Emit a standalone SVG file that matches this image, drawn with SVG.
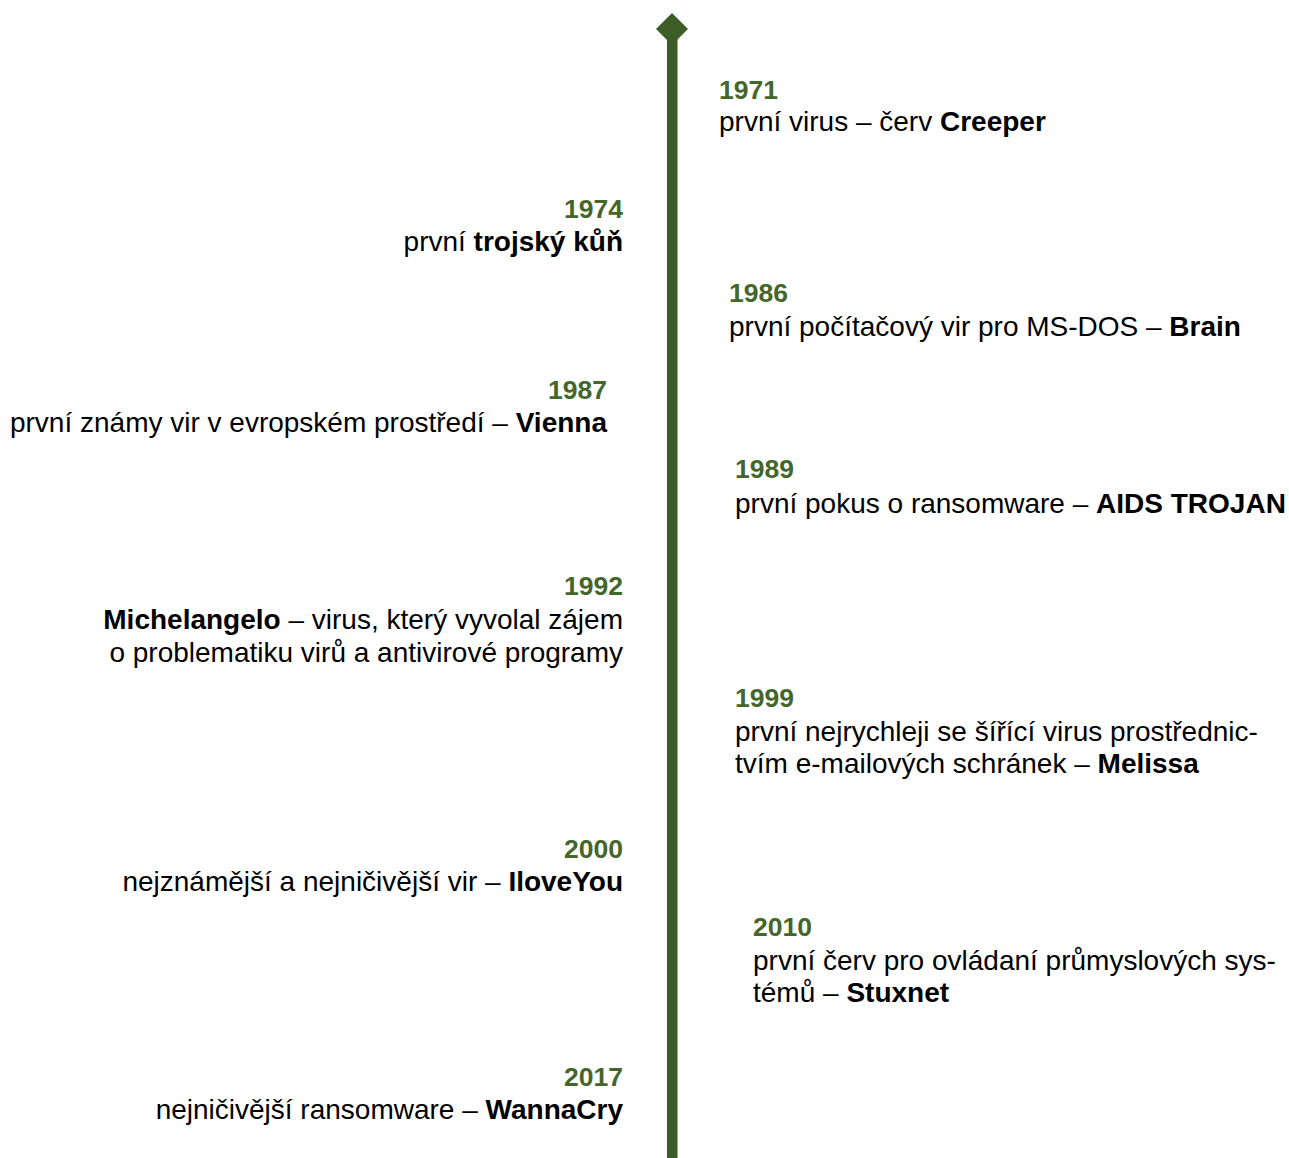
<svg xmlns="http://www.w3.org/2000/svg" width="1289" height="1158" viewBox="0 0 1289 1158">
<style>
.y{font-family:"Liberation Sans",Arial,sans-serif;font-size:26.5px;font-weight:bold;fill:#44662b}
.d{font-family:"Liberation Sans",Arial,sans-serif;font-size:28px;fill:#000}
.b{font-weight:bold}
.r{text-anchor:end}
</style>
<rect width="1289" height="1158" fill="#fff"/>
<g id="connectors">
<rect x="667" y="36" width="10.5" height="1122" fill="#3d5d26"/>
<polygon points="672,13 688,29 672,45 656,29" fill="#3d5d26"/>
</g>
<g id="e1971">
<text class="y" x="719" y="99">1971</text>
<text class="d" x="719" y="131">první virus – červ <tspan class="b">Creeper</tspan></text>
</g>
<g id="e1974">
<text class="y r" x="623" y="218">1974</text>
<text class="d r" x="623" y="251">první <tspan class="b">trojský kůň</tspan></text>
</g>
<g id="e1986">
<text class="y" x="729" y="302">1986</text>
<text class="d" x="729" y="336">první počítačový vir pro MS-DOS – <tspan class="b">Brain</tspan></text>
</g>
<g id="e1987">
<text class="y r" x="607" y="399">1987</text>
<text class="d r" x="607" y="432">první známy vir v evropském prostředí – <tspan class="b">Vienna</tspan></text>
</g>
<g id="e1989">
<text class="y" x="735" y="478">1989</text>
<text class="d" x="735" y="513">první pokus o ransomware – <tspan class="b">AIDS TROJAN</tspan></text>
</g>
<g id="e1992">
<text class="y r" x="623" y="595">1992</text>
<text class="d r" x="623" y="629"><tspan class="b">Michelangelo</tspan> – virus, který vyvolal zájem</text>
<text class="d r" x="623" y="662">o problematiku virů a antivirové programy</text>
</g>
<g id="e1999">
<text class="y" x="735" y="707">1999</text>
<text class="d" x="735" y="741">první nejrychleji se šířící virus prostřednic-</text>
<text class="d" x="735" y="773">tvím e-mailových schránek – <tspan class="b">Melissa</tspan></text>
</g>
<g id="e2000">
<text class="y r" x="623" y="858">2000</text>
<text class="d r" x="623" y="891">nejznámější a nejničivější vir – <tspan class="b">IloveYou</tspan></text>
</g>
<g id="e2010">
<text class="y" x="753" y="936">2010</text>
<text class="d" x="753" y="970">první červ pro ovládaní průmyslových sys-</text>
<text class="d" x="753" y="1002">témů – <tspan class="b">Stuxnet</tspan></text>
</g>
<g id="e2017">
<text class="y r" x="623" y="1086">2017</text>
<text class="d r" x="623" y="1119">nejničivější ransomware – <tspan class="b">WannaCry</tspan></text>
</g>
</svg>
